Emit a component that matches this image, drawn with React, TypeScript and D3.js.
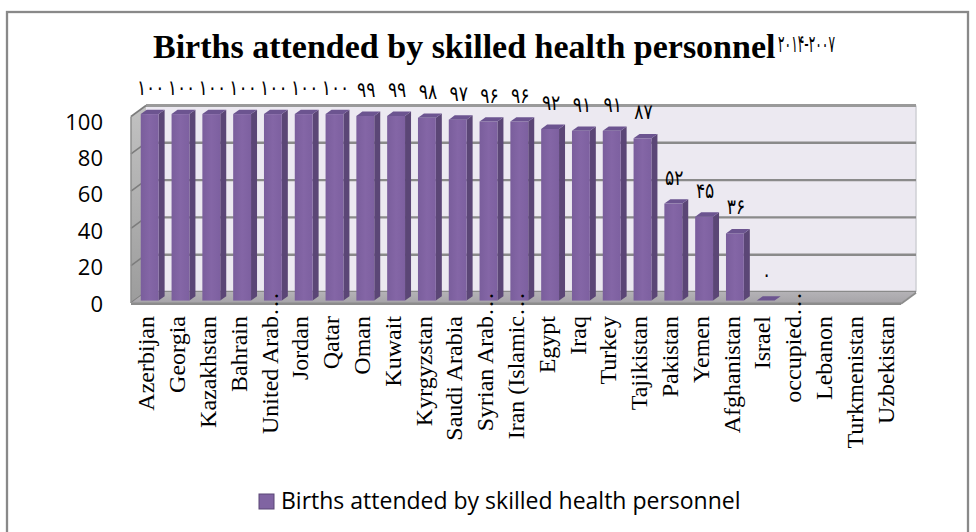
import React from 'react';
import * as d3 from 'd3';

const categories: string[] = [
  'Azerbijan', 'Georgia', 'Kazakhstan', 'Bahrain', 'United Arab…', 'Jordan', 'Qatar', 'Oman',
  'Kuwait', 'Kyrgyzstan', 'Saudi Arabia', 'Syrian Arab…', 'Iran (Islamic…', 'Egypt', 'Iraq',
  'Turkey', 'Tajikistan', 'Pakistan', 'Yemen', 'Afghanistan', 'Israel', 'occupied…', 'Lebanon',
  'Turkmenistan', 'Uzbekistan',
];
const values: (number | null)[] = [
  100, 100, 100, 100, 100, 100, 100, 99, 99, 98, 97, 96, 96, 92, 91, 91, 87, 52, 45, 36, 0,
  null, null, null, null,
];
const yTicks: number[] = [0, 20, 40, 60, 80, 100];
const seriesName = 'Births attended by skilled health personnel';
const titleText = 'Births attended by skilled health personnel';
const titleYears = '۲۰۱۴-۲۰۰۷';

const toPersian = (n: number) => String(n).replace(/\d/g, (d) => '۰۱۲۳۴۵۶۷۸۹'[+d]);

const W = 976;
const H = 532;
const DX = 15;
const DY = -11;
const F1 = 0.22;
const F2 = 0.62;

export default function App() {
  const x = d3.scaleBand<string>().domain(categories).range([131, 901]).padding(0);
  const y = d3.scaleLinear().domain([0, 100]).range([303, 116.5]);
  const yLab = d3.scaleLinear().domain([0, 100]).range([302.5, 120.6]);
  const bwBand = x.bandwidth();
  const bw = bwBand * 0.58;
  const sdx = DX * (F2 - F1);
  const sdy = DY * (F2 - F1);

  const fx0 = x.range()[0];
  const fx1 = x.range()[1];
  const fy0 = y(0);
  const fy100 = y(100);

  const pts = (a: [number, number][]) => a.map((p) => p.join(',')).join(' ');

  return (
    <div style={{ position: 'absolute', left: 0, top: 0 }}>
      <svg width={W} height={H} style={{ display: 'block', background: '#fff' }}>
        <defs>
          <linearGradient id="sideWall" x1="0" y1="0" x2="0" y2="1">
            <stop offset="0" stopColor="#c2c2c2" />
            <stop offset="1" stopColor="#9c9c9c" />
          </linearGradient>
          <linearGradient id="floorG" x1="0" y1="0" x2="0" y2="1">
            <stop offset="0" stopColor="#b4b2b6" />
            <stop offset="1" stopColor="#a6a4a8" />
          </linearGradient>
          <linearGradient id="barFront" x1="0" y1="0" x2="1" y2="0">
            <stop offset="0" stopColor="#7a5e9c" />
            <stop offset="0.5" stopColor="#8466a6" />
            <stop offset="1" stopColor="#7d60a0" />
          </linearGradient>
        </defs>
        <rect x={7} y={12} width={961} height={530} fill="none" stroke="#898989" strokeWidth={2.3} />

        {/* Title */}
        <text x={153} y={58} fontFamily="'Liberation Serif', 'Times New Roman', serif" fontWeight="bold" fontSize={34} fill="#000">
          {titleText}
        </text>
        <text x={778} y={52} fontFamily="'DejaVu Sans', sans-serif" fontSize={24} textLength={57} lengthAdjust="spacingAndGlyphs" fill="#000" direction="ltr">
          {titleYears}
        </text>

        {/* Back wall */}
        <rect x={fx0 + DX} y={fy100 + DY} width={fx1 - fx0} height={fy0 - fy100} fill="#ECE9F1" />
        <line x1={fx1 + DX} x2={fx1 + DX} y1={fy100 + DY} y2={fy0 + DY} stroke="#cfcfd4" strokeWidth={1.5} />
        {yTicks.map((t) => (
          <line key={'g' + t} x1={fx0 + DX} x2={fx1 + DX} y1={y(t) + DY} y2={y(t) + DY}
            stroke={t === 100 ? '#9a9a9a' : '#8a8a8a'} strokeWidth={t === 100 ? 3 : 2.4} />
        ))}

        {/* Side wall */}
        <polygon points={pts([[fx0, fy100], [fx0 + DX, fy100 + DY], [fx0 + DX, fy0 + DY], [fx0, fy0]])} fill="url(#sideWall)" />
        {yTicks.map((t) => (
          <line key={'s' + t} x1={fx0} y1={y(t)} x2={fx0 + DX} y2={y(t) + DY} stroke="#7c7c7c" strokeWidth={1.6} />
        ))}
        <line x1={fx0} y1={fy100} x2={fx0} y2={fy0} stroke="#8e8e8e" strokeWidth={1.5} />

        {/* Floor */}
        <polygon points={pts([[fx0, fy0], [fx1, fy0], [fx1 + DX, fy0 + DY], [fx0 + DX, fy0 + DY]])} fill="url(#floorG)" />
        <line x1={fx0} x2={fx1} y1={fy0 + 0.8} y2={fy0 + 0.8} stroke="#8c8c8c" strokeWidth={2.4} />
        <line x1={fx1} y1={fy0 + 0.8} x2={fx1 + DX} y2={fy0 + DY + 0.8} stroke="#8c8c8c" strokeWidth={2} />

        {/* Bars */}
        {categories.map((c, i) => {
          const v = values[i];
          if (v === null) return null;
          const cx = (x(c) as number) + bwBand / 2 + DX * F1;
          const xl = cx - bw / 2;
          const xr = cx + bw / 2;
          const yT = y(v) + DY * F1;
          const yB = y(0) + DY * F1;
          return (
            <g key={'b' + c}>
              {v > 0 && (
                <polygon points={pts([[xr, yT], [xr + sdx, yT + sdy], [xr + sdx, yB + sdy], [xr, yB]])} fill="#5b4676" />
              )}
              {v > 0 && <rect x={xl} y={yT} width={bw} height={yB - yT} fill="url(#barFront)" />}
              <polygon points={pts([[xl, yT], [xr, yT], [xr + sdx, yT + sdy], [xl + sdx, yT + sdy]])} fill="#6c5490" />
            </g>
          );
        })}

        {/* Data labels */}
        {categories.map((c, i) => {
          const v = values[i];
          if (v === null) return null;
          const cx = (x(c) as number) + bwBand / 2 + DX * F1 + 1;
          const yT = y(v) + DY * F1;
          const s = toPersian(v);
          return (
            <text key={'l' + c} x={cx} y={yT - 19} textAnchor="middle" fontFamily="'DejaVu Sans', sans-serif" fontSize={21}
              textLength={s.length * 9.2} lengthAdjust="spacingAndGlyphs" fill="#000">
              {s}
            </text>
          );
        })}

        {/* Y axis labels */}
        {yTicks.map((t) => (
          <text key={'y' + t} x={103} y={yLab(t)} textAnchor="end" dominantBaseline="central" fontFamily="'Open Sans', sans-serif" fontSize={22} fill="#000">
            {t}
          </text>
        ))}

        {/* Category labels */}
        {categories.map((c) => {
          const bx = (x(c) as number) + bwBand / 2 + 8;
          const trunc = c.endsWith('…');
          const main = trunc ? c.slice(0, -1) : c;
          return (
            <g key={'c' + c} transform={`translate(${bx},316) rotate(-90)`}>
              <text x={0} y={0} textAnchor="end" fontFamily="'Liberation Serif', 'Times New Roman', serif" fontSize={24} fill="#000">
                {main}
              </text>
              {trunc && (
                <text x={0} y={0} textAnchor="start" fontFamily="'Liberation Serif', 'Times New Roman', serif" fontSize={24} fill="#000">
                  …
                </text>
              )}
            </g>
          );
        })}

        {/* Legend */}
        <rect x={259} y={494} width={15} height={15} fill="#8064A2" stroke="#5b4676" strokeWidth={1} />
        <text x={281} y={509} fontFamily="'Open Sans', sans-serif" fontSize={23} fill="#000">
          {seriesName}
        </text>
      </svg>
    </div>
  );
}
